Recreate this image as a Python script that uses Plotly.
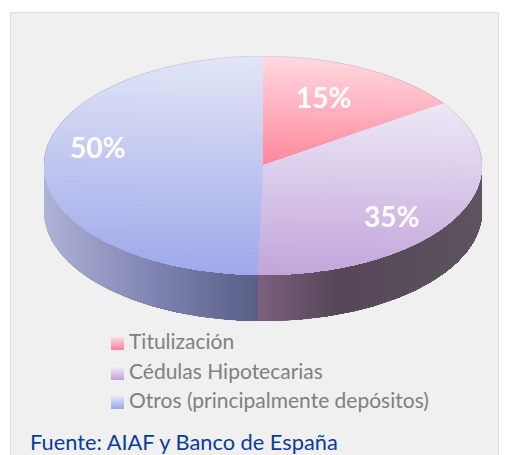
import numpy as np
import plotly.graph_objects as go

# ---- data ----
categories = ["Titulización", "Cédulas Hipotecarias", "Otros (principalmente depósitos)"]
shares = [15.4, 35.0, 49.6]
value_labels = ["15%", "35%", "50%"]
source_note = "Fuente: AIAF y Banco de España"

# ---- style ----
W, H = 509, 455
top_ramps = [((255, 216, 224), (255, 134, 154)),
             ((236, 232, 246), (194, 164, 218)),
             ((226, 229, 246), (158, 168, 234))]
side_stops = {1: [(0.0, (124, 96, 126)), (0.35, (86, 70, 88)), (1.0, (92, 84, 94))],
              2: [(0.0, (174, 178, 214)), (0.5, (128, 132, 178)), (1.0, (88, 94, 134))]}
depth = 46 / 109.5
label_pos = [(0.278, 0.625), (0.587, -0.465), (-0.755, 0.17)]
tilt = 0.04
BANDS = 48


def css(c):
    return "rgb(%d,%d,%d)" % tuple(int(round(v)) for v in c)


def mix(a, b, t):
    return [a[i] + (b[i] - a[i]) * t for i in range(3)]


def stop_color(stops, t):
    for (t0, c0), (t1, c1) in zip(stops, stops[1:]):
        if t <= t1:
            return mix(c0, c1, (t - t0) / (t1 - t0))
    return stops[-1][1]


def clip(poly, k, c):
    """Keep the part of poly where y + k*x <= c."""
    out = []
    n = len(poly)
    for i in range(n):
        p, q = poly[i], poly[(i + 1) % n]
        fp, fq = p[1] + k * p[0] - c, q[1] + k * q[0] - c
        if fp <= 0:
            out.append(p)
        if (fp < 0 < fq) or (fq < 0 < fp):
            t = fp / (fp - fq)
            out.append((p[0] + (q[0] - p[0]) * t, p[1] + (q[1] - p[1]) * t))
    return out


def add_poly(fig, poly, color, name):
    xs = [p[0] for p in poly] + [poly[0][0]]
    ys = [p[1] for p in poly] + [poly[0][1]]
    fig.add_trace(go.Scatter(x=xs, y=ys, mode="lines", fill="toself", fillcolor=color,
                             line=dict(width=0, color=color), hoverinfo="skip",
                             showlegend=False, name=name))


fig = go.Figure()
edges = np.cumsum([0.0] + shares) / sum(shares) * 2 * np.pi

# side wall: only the front half of the disc shows
for i in (1, 2):
    a = max(edges[i], np.pi / 2)
    b = min(edges[i + 1], 3 * np.pi / 2)
    th = np.linspace(a, b, 160)
    x_arc, y_arc = np.sin(th), np.cos(th)
    x_lo, x_hi = x_arc.min(), x_arc.max()
    steps = 60
    for s in range(steps):
        t = s / steps
        cut = x_lo + (x_hi - x_lo) * t
        keep = x_arc >= cut
        order = np.argsort(x_arc[keep])
        xk = x_arc[keep][order]
        yk = y_arc[keep][order]
        y_cut = -np.sqrt(max(1 - cut * cut, 0))
        xs = np.r_[cut, xk, xk[::-1], cut]
        ys = np.r_[y_cut, yk, yk[::-1] - depth, y_cut - depth]
        add_poly(fig, list(zip(xs, ys)), css(stop_color(side_stops[i], t)), categories[i])

# top face
for i in range(3):
    th = np.linspace(edges[i], edges[i + 1], 200)
    poly = [(0.0, 0.0)] + list(zip(np.sin(th), np.cos(th)))
    vals = [p[1] + tilt * p[0] for p in poly]
    hi, lo = max(vals), min(vals)
    for s in range(BANDS):
        t = s / BANDS
        part = clip(poly, tilt, hi - (hi - lo) * t)
        if len(part) > 2:
            add_poly(fig, part, css(mix(top_ramps[i][0], top_ramps[i][1], t)), categories[i])

# fine rim around the disc
th = np.linspace(0, 2 * np.pi, 400)
rim = "rgba(110,110,110,0.32)"
fig.add_trace(go.Scatter(x=np.sin(th)[100:300], y=np.cos(th)[100:300] - depth, mode="lines",
                         line=dict(width=0.6, color=rim), hoverinfo="skip", showlegend=False))
fig.add_trace(go.Scatter(x=np.r_[np.sin(th)[300:], np.sin(th)[:100]], y=np.r_[np.cos(th)[300:], np.cos(th)[:100]],
                         mode="lines", line=dict(width=0.6, color=rim), hoverinfo="skip", showlegend=False))

annotations = []
for txt, (lx, ly) in zip(value_labels, label_pos):
    annotations.append(dict(x=lx, y=ly, xref="x", yref="y", text="<b>%s</b>" % txt, showarrow=False,
                            font=dict(family="Lato", size=28, color="white")))

shapes = [dict(type="rect", xref="paper", yref="paper", x0=10.5 / W, x1=498.5 / W, y0=-0.02, y1=1 - 12.5 / H,
               fillcolor="#F0F0F0", line=dict(color="#DEDEDE", width=1), layer="below")]
legend_y = [341, 371, 400]
for name, yc, ramp in zip(categories, legend_y, top_ramps):
    annotations.append(dict(x=126.5 / W, y=1 - (yc - 0.5) / H, xref="paper", yref="paper", xanchor="left", yanchor="middle",
                            text=name, showarrow=False, font=dict(family="Lato", size=21, color="#808080")))
    for s in range(13):
        shapes.append(dict(type="rect", xref="paper", yref="paper", x0=111 / W, x1=124 / W,
                           y0=1 - (yc - 4 + s + 1) / H, y1=1 - (yc - 4 + s) / H,
                           fillcolor=css(mix(ramp[0], ramp[1], s / 12)), line=dict(width=0), layer="above"))
annotations.append(dict(x=28 / W, y=1 - 441 / H, xref="paper", yref="paper", xanchor="left", yanchor="middle",
                        text=source_note, showarrow=False, font=dict(family="Lato", size=21.8, color="#0B3C9E")))

fig.update_layout(width=W, height=H, margin=dict(l=0, r=0, t=0, b=0), paper_bgcolor="white", plot_bgcolor="rgba(0,0,0,0)",
                  xaxis=dict(domain=[44 / W, 482 / W], range=[-1, 1], visible=False, fixedrange=True),
                  yaxis=dict(domain=[1 - 321 / H, 1 - 56 / H], range=[-1 - depth, 1], visible=False, fixedrange=True),
                  shapes=shapes, annotations=annotations, showlegend=False)
fig.write_html("out.html", config=dict(displayModeBar=False),
               post_script="document.documentElement.style.overflow='hidden';document.body.style.margin='0';")
